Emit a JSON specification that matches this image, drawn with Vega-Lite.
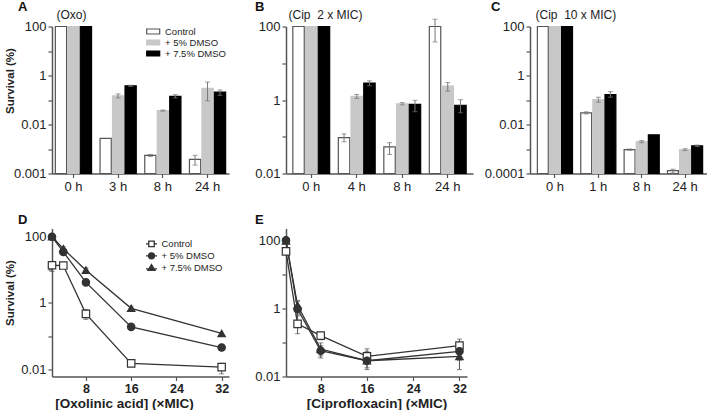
{
  "$schema": "https://vega.github.io/schema/vega-lite/v6.json",
  "background": "white",
  "padding": {"left": 4, "top": 0.5, "right": 0, "bottom": 0},
  "datasets": {
    "bars": [
      {"panel": "A", "time": "0 h", "group": "Control", "value": 100},
      {"panel": "A", "time": "0 h", "group": "+ 5% DMSO", "value": 100},
      {"panel": "A", "time": "0 h", "group": "+ 7.5% DMSO", "value": 100},
      {"panel": "A", "time": "3 h", "group": "Control", "value": 0.0027},
      {"panel": "A", "time": "3 h", "group": "+ 5% DMSO", "value": 0.148, "lo": 0.122, "hi": 0.177},
      {"panel": "A", "time": "3 h", "group": "+ 7.5% DMSO", "value": 0.38, "lo": 0.36, "hi": 0.4},
      {"panel": "A", "time": "8 h", "group": "Control", "value": 0.00055, "lo": 0.00049, "hi": 0.0006},
      {"panel": "A", "time": "8 h", "group": "+ 5% DMSO", "value": 0.037, "lo": 0.035, "hi": 0.039},
      {"panel": "A", "time": "8 h", "group": "+ 7.5% DMSO", "value": 0.14, "lo": 0.122, "hi": 0.165},
      {"panel": "A", "time": "24 h", "group": "Control", "value": 0.00038, "lo": 0.00022, "hi": 0.00055},
      {"panel": "A", "time": "24 h", "group": "+ 5% DMSO", "value": 0.3, "lo": 0.092, "hi": 0.54},
      {"panel": "A", "time": "24 h", "group": "+ 7.5% DMSO", "value": 0.21, "lo": 0.155, "hi": 0.257},
      {"panel": "B", "time": "0 h", "group": "Control", "value": 100},
      {"panel": "B", "time": "0 h", "group": "+ 5% DMSO", "value": 100},
      {"panel": "B", "time": "0 h", "group": "+ 7.5% DMSO", "value": 100},
      {"panel": "B", "time": "4 h", "group": "Control", "value": 0.095, "lo": 0.073, "hi": 0.12},
      {"panel": "B", "time": "4 h", "group": "+ 5% DMSO", "value": 1.26, "lo": 1.1, "hi": 1.42},
      {"panel": "B", "time": "4 h", "group": "+ 7.5% DMSO", "value": 2.9, "lo": 2.44, "hi": 3.33},
      {"panel": "B", "time": "8 h", "group": "Control", "value": 0.053, "lo": 0.033, "hi": 0.069},
      {"panel": "B", "time": "8 h", "group": "+ 5% DMSO", "value": 0.79, "lo": 0.74, "hi": 0.85},
      {"panel": "B", "time": "8 h", "group": "+ 7.5% DMSO", "value": 0.76, "lo": 0.48, "hi": 0.98},
      {"panel": "B", "time": "24 h", "group": "Control", "value": 100, "lo": 38, "hi": 158},
      {"panel": "B", "time": "24 h", "group": "+ 5% DMSO", "value": 2.4, "lo": 1.74, "hi": 3.0},
      {"panel": "B", "time": "24 h", "group": "+ 7.5% DMSO", "value": 0.72, "lo": 0.45, "hi": 1.02},
      {"panel": "C", "time": "0 h", "group": "Control", "value": 100},
      {"panel": "C", "time": "0 h", "group": "+ 5% DMSO", "value": 100},
      {"panel": "C", "time": "0 h", "group": "+ 7.5% DMSO", "value": 100},
      {"panel": "C", "time": "1 h", "group": "Control", "value": 0.03, "lo": 0.027, "hi": 0.033},
      {"panel": "C", "time": "1 h", "group": "+ 5% DMSO", "value": 0.105, "lo": 0.081, "hi": 0.13},
      {"panel": "C", "time": "1 h", "group": "+ 7.5% DMSO", "value": 0.165, "lo": 0.13, "hi": 0.22},
      {"panel": "C", "time": "8 h", "group": "Control", "value": 0.00094, "lo": 0.00088, "hi": 0.001},
      {"panel": "C", "time": "8 h", "group": "+ 5% DMSO", "value": 0.002, "lo": 0.0018, "hi": 0.0022},
      {"panel": "C", "time": "8 h", "group": "+ 7.5% DMSO", "value": 0.0038},
      {"panel": "C", "time": "24 h", "group": "Control", "value": 0.00013, "lo": 0.000105, "hi": 0.00015},
      {"panel": "C", "time": "24 h", "group": "+ 5% DMSO", "value": 0.00094, "lo": 0.00086, "hi": 0.00103},
      {"panel": "C", "time": "24 h", "group": "+ 7.5% DMSO", "value": 0.00135, "lo": 0.00125, "hi": 0.00145}
    ],
    "lines": [
      {"panel": "D", "conc": 2, "group": "Control", "value": 13.8, "lo": 9, "hi": 16},
      {"panel": "D", "conc": 4, "group": "Control", "value": 13.5, "lo": 11, "hi": 16},
      {"panel": "D", "conc": 8, "group": "Control", "value": 0.47, "lo": 0.32, "hi": 0.63},
      {"panel": "D", "conc": 16, "group": "Control", "value": 0.015, "lo": 0.013, "hi": 0.017},
      {"panel": "D", "conc": 32, "group": "Control", "value": 0.0115, "lo": 0.0072, "hi": 0.015},
      {"panel": "D", "conc": 2, "group": "+ 5% DMSO", "value": 100},
      {"panel": "D", "conc": 4, "group": "+ 5% DMSO", "value": 35, "lo": 30, "hi": 40},
      {"panel": "D", "conc": 8, "group": "+ 5% DMSO", "value": 4.2},
      {"panel": "D", "conc": 16, "group": "+ 5% DMSO", "value": 0.19, "lo": 0.17, "hi": 0.22},
      {"panel": "D", "conc": 32, "group": "+ 5% DMSO", "value": 0.045},
      {"panel": "D", "conc": 2, "group": "+ 7.5% DMSO", "value": 100},
      {"panel": "D", "conc": 4, "group": "+ 7.5% DMSO", "value": 43.5, "lo": 38, "hi": 50},
      {"panel": "D", "conc": 8, "group": "+ 7.5% DMSO", "value": 9.8, "lo": 8.5, "hi": 11.5},
      {"panel": "D", "conc": 16, "group": "+ 7.5% DMSO", "value": 0.69, "lo": 0.58, "hi": 0.8},
      {"panel": "D", "conc": 32, "group": "+ 7.5% DMSO", "value": 0.12},
      {"panel": "E", "conc": 2, "group": "Control", "value": 47},
      {"panel": "E", "conc": 4, "group": "Control", "value": 0.35, "lo": 0.18, "hi": 0.65},
      {"panel": "E", "conc": 8, "group": "Control", "value": 0.158, "lo": 0.12, "hi": 0.2},
      {"panel": "E", "conc": 16, "group": "Control", "value": 0.039, "lo": 0.025, "hi": 0.055},
      {"panel": "E", "conc": 32, "group": "Control", "value": 0.081, "lo": 0.045, "hi": 0.125},
      {"panel": "E", "conc": 2, "group": "+ 5% DMSO", "value": 100},
      {"panel": "E", "conc": 4, "group": "+ 5% DMSO", "value": 0.95, "lo": 0.6, "hi": 1.6},
      {"panel": "E", "conc": 8, "group": "+ 5% DMSO", "value": 0.057, "lo": 0.04, "hi": 0.08},
      {"panel": "E", "conc": 16, "group": "+ 5% DMSO", "value": 0.029, "lo": 0.018, "hi": 0.045},
      {"panel": "E", "conc": 32, "group": "+ 5% DMSO", "value": 0.055, "lo": 0.03, "hi": 0.09},
      {"panel": "E", "conc": 2, "group": "+ 7.5% DMSO", "value": 95},
      {"panel": "E", "conc": 4, "group": "+ 7.5% DMSO", "value": 1.23, "lo": 0.9, "hi": 1.7},
      {"panel": "E", "conc": 8, "group": "+ 7.5% DMSO", "value": 0.064, "lo": 0.035, "hi": 0.097},
      {"panel": "E", "conc": 16, "group": "+ 7.5% DMSO", "value": 0.029, "lo": 0.016, "hi": 0.065},
      {"panel": "E", "conc": 32, "group": "+ 7.5% DMSO", "value": 0.039, "lo": 0.016, "hi": 0.07}
    ]
  },
  "columns": 3,
  "align": "none",
  "bounds": "flush",
  "spacing": {"row": 55, "column": 57},
  "resolve": {"scale": {"fill": "independent", "stroke": "independent", "shape": "independent", "x": "independent", "y": "independent", "xOffset": "independent"}, "legend": {"fill": "independent", "stroke": "independent", "shape": "independent"}},
  "concat": [
    {
      "data": {"name": "bars"},
      "transform": [{"filter": "datum.panel == 'A'"}],
      "width": 177, "height": 147,
      "title": {"text": "A", "dx": -34, "offset": -5.5},
      "resolve": {"axis": {"x": "independent"}},
      "layer": [
        {
          "mark": {"type": "bar", "strokeWidth": 1.2},
          "encoding": {
            "x": {"field": "time", "type": "nominal", "sort": ["0 h", "3 h", "8 h", "24 h"], "scale": {"paddingInner": 0.19, "paddingOuter": 0.075}, "axis": {"title": null, "labelPadding": 3}},
            "xOffset": {"field": "group", "type": "nominal", "sort": ["Control", "+ 5% DMSO", "+ 7.5% DMSO"], "scale": {"paddingInner": 0.1}},
            "y": {"field": "value", "type": "quantitative", "stack": null, "title": "Survival (%)", "scale": {"type": "log", "domain": [0.0001, 100], "nice": false}, "axis": {"values": [100, 10, 1, 0.1, 0.01, 0.001, 0.0001], "labelOverlap": false, "labelExpr": "datum.value > 99 ? '100' : (datum.value > 0.99 && datum.value < 1.01) ? '1' : (datum.value > 0.0099 && datum.value < 0.0101) ? '0.01' : datum.value < 0.00011 ? '0.001' : ''", "titleX": -42, "titleY": 54, "titleAngle": 270, "titleAlign": "center", "titleBaseline": "middle"}},
            "y2": {"datum": 0.0001},
            "fill": {"field": "group", "type": "nominal", "scale": {"domain": ["Control", "+ 5% DMSO", "+ 7.5% DMSO"], "range": ["#ffffff", "#c8c8c8", "#000000"]}, "legend": {"title": null, "orient": "none", "legendX": 95.2, "legendY": -1, "symbolType": "M-1.3,-0.5H1.3V0.5H-1.3Z", "symbolSize": 100, "symbolStrokeWidth": 1.2, "labelOffset": 5.8, "rowPadding": -1.9}},
            "stroke": {"field": "group", "type": "nominal", "scale": {"domain": ["Control", "+ 5% DMSO", "+ 7.5% DMSO"], "range": ["#555555", "#c8c8c8", "#000000"]}, "legend": {"title": null, "orient": "none", "legendX": 95.2, "legendY": -1, "symbolType": "M-1.3,-0.5H1.3V0.5H-1.3Z", "symbolSize": 100, "symbolStrokeWidth": 1.2, "labelOffset": 5.8, "rowPadding": -1.9}}
          }
        },
        {
          "transform": [{"filter": "isValid(datum.lo)"}],
          "mark": {"type": "rule", "color": "#777777", "strokeWidth": 1},
          "encoding": {
            "x": {"field": "time", "type": "nominal", "sort": ["0 h", "3 h", "8 h", "24 h"], "axis": {"orient": "top", "title": "(Oxo)", "labels": false, "ticks": false, "domain": false, "titleX": 4, "titleY": -8, "titleAlign": "left", "titleBaseline": "alphabetic", "titleFontWeight": "normal", "titleFontSize": 12}},
            "xOffset": {"field": "group", "type": "nominal", "sort": ["Control", "+ 5% DMSO", "+ 7.5% DMSO"]},
            "y": {"field": "lo", "type": "quantitative", "title": "Survival (%)"},
            "y2": {"field": "hi"}
          }
        },
        {
          "transform": [{"filter": "isValid(datum.lo)"}],
          "mark": {"type": "tick", "orient": "horizontal", "color": "#777777", "size": 5, "thickness": 1},
          "encoding": {
            "x": {"field": "time", "type": "nominal", "sort": ["0 h", "3 h", "8 h", "24 h"], "axis": null},
            "xOffset": {"field": "group", "type": "nominal", "sort": ["Control", "+ 5% DMSO", "+ 7.5% DMSO"]},
            "y": {"field": "lo", "type": "quantitative", "title": "Survival (%)"}
          }
        },
        {
          "transform": [{"filter": "isValid(datum.hi)"}],
          "mark": {"type": "tick", "orient": "horizontal", "color": "#777777", "size": 5, "thickness": 1},
          "encoding": {
            "x": {"field": "time", "type": "nominal", "sort": ["0 h", "3 h", "8 h", "24 h"], "axis": null},
            "xOffset": {"field": "group", "type": "nominal", "sort": ["Control", "+ 5% DMSO", "+ 7.5% DMSO"]},
            "y": {"field": "hi", "type": "quantitative", "title": "Survival (%)"}
          }
        }
      ]
    },
    {
      "data": {"name": "bars"},
      "transform": [{"filter": "datum.panel == 'B'"}],
      "width": 187, "height": 147,
      "title": {"text": "B", "dx": -31, "offset": -5.5},
      "resolve": {"axis": {"x": "independent"}},
      "layer": [
        {
          "mark": {"type": "bar", "strokeWidth": 1.2},
          "encoding": {
            "x": {"field": "time", "type": "nominal", "sort": ["0 h", "4 h", "8 h", "24 h"], "scale": {"paddingInner": 0.19, "paddingOuter": 0.15}, "axis": {"title": null, "labelPadding": 3}},
            "xOffset": {"field": "group", "type": "nominal", "sort": ["Control", "+ 5% DMSO", "+ 7.5% DMSO"], "scale": {"paddingInner": 0.1}},
            "y": {"field": "value", "type": "quantitative", "stack": null, "title": null, "scale": {"type": "log", "domain": [0.01, 100], "nice": false}, "axis": {"values": [100, 10, 1, 0.1, 0.01], "labelOverlap": false, "labelExpr": "datum.value > 99 ? '100' : (datum.value > 0.99 && datum.value < 1.01) ? '1' : (datum.value > 0.0099 && datum.value < 0.0101) ? '0.01' : ''"}},
            "y2": {"datum": 0.01},
            "fill": {"field": "group", "type": "nominal", "scale": {"domain": ["Control", "+ 5% DMSO", "+ 7.5% DMSO"], "range": ["#ffffff", "#c8c8c8", "#000000"]}, "legend": null},
            "stroke": {"field": "group", "type": "nominal", "scale": {"domain": ["Control", "+ 5% DMSO", "+ 7.5% DMSO"], "range": ["#555555", "#c8c8c8", "#000000"]}, "legend": null}
          }
        },
        {
          "transform": [{"filter": "isValid(datum.lo)"}],
          "mark": {"type": "rule", "color": "#777777", "strokeWidth": 1},
          "encoding": {
            "x": {"field": "time", "type": "nominal", "sort": ["0 h", "4 h", "8 h", "24 h"], "axis": {"orient": "top", "title": "(Cip\u00a0 2 x MIC)", "labels": false, "ticks": false, "domain": false, "titleX": 2, "titleY": -8, "titleAlign": "left", "titleBaseline": "alphabetic", "titleFontWeight": "normal", "titleFontSize": 12}},
            "xOffset": {"field": "group", "type": "nominal", "sort": ["Control", "+ 5% DMSO", "+ 7.5% DMSO"]},
            "y": {"field": "lo", "type": "quantitative", "title": null},
            "y2": {"field": "hi"}
          }
        },
        {
          "transform": [{"filter": "isValid(datum.lo)"}],
          "mark": {"type": "tick", "orient": "horizontal", "color": "#777777", "size": 5, "thickness": 1},
          "encoding": {
            "x": {"field": "time", "type": "nominal", "sort": ["0 h", "4 h", "8 h", "24 h"], "axis": null},
            "xOffset": {"field": "group", "type": "nominal", "sort": ["Control", "+ 5% DMSO", "+ 7.5% DMSO"]},
            "y": {"field": "lo", "type": "quantitative", "title": null}
          }
        },
        {
          "transform": [{"filter": "isValid(datum.hi)"}],
          "mark": {"type": "tick", "orient": "horizontal", "color": "#777777", "size": 5, "thickness": 1},
          "encoding": {
            "x": {"field": "time", "type": "nominal", "sort": ["0 h", "4 h", "8 h", "24 h"], "axis": null},
            "xOffset": {"field": "group", "type": "nominal", "sort": ["Control", "+ 5% DMSO", "+ 7.5% DMSO"]},
            "y": {"field": "hi", "type": "quantitative", "title": null}
          }
        }
      ]
    },
    {
      "data": {"name": "bars"},
      "transform": [{"filter": "datum.panel == 'C'"}],
      "width": 180, "height": 147,
      "title": {"text": "C", "dx": -39, "offset": -5.5},
      "resolve": {"axis": {"x": "independent"}},
      "layer": [
        {
          "mark": {"type": "bar", "strokeWidth": 1.2},
          "encoding": {
            "x": {"field": "time", "type": "nominal", "sort": ["0 h", "1 h", "8 h", "24 h"], "scale": {"paddingInner": 0.19, "paddingOuter": 0.17}, "axis": {"title": null, "labelPadding": 3}},
            "xOffset": {"field": "group", "type": "nominal", "sort": ["Control", "+ 5% DMSO", "+ 7.5% DMSO"], "scale": {"paddingInner": 0.1}},
            "y": {"field": "value", "type": "quantitative", "stack": null, "title": null, "scale": {"type": "log", "domain": [0.0001, 100], "nice": false}, "axis": {"values": [100, 10, 1, 0.1, 0.01, 0.001, 0.0001], "labelOverlap": false, "labelExpr": "datum.value > 99 ? '100' : (datum.value > 0.99 && datum.value < 1.01) ? '1' : (datum.value > 0.0099 && datum.value < 0.0101) ? '0.01' : datum.value < 0.00011 ? '0.0001' : ''"}},
            "y2": {"datum": 0.0001},
            "fill": {"field": "group", "type": "nominal", "scale": {"domain": ["Control", "+ 5% DMSO", "+ 7.5% DMSO"], "range": ["#ffffff", "#c8c8c8", "#000000"]}, "legend": null},
            "stroke": {"field": "group", "type": "nominal", "scale": {"domain": ["Control", "+ 5% DMSO", "+ 7.5% DMSO"], "range": ["#555555", "#c8c8c8", "#000000"]}, "legend": null}
          }
        },
        {
          "transform": [{"filter": "isValid(datum.lo)"}],
          "mark": {"type": "rule", "color": "#777777", "strokeWidth": 1},
          "encoding": {
            "x": {"field": "time", "type": "nominal", "sort": ["0 h", "1 h", "8 h", "24 h"], "axis": {"orient": "top", "title": "(Cip\u00a0 10 x MIC)", "labels": false, "ticks": false, "domain": false, "titleX": 5, "titleY": -8, "titleAlign": "left", "titleBaseline": "alphabetic", "titleFontWeight": "normal", "titleFontSize": 12}},
            "xOffset": {"field": "group", "type": "nominal", "sort": ["Control", "+ 5% DMSO", "+ 7.5% DMSO"]},
            "y": {"field": "lo", "type": "quantitative", "title": null},
            "y2": {"field": "hi"}
          }
        },
        {
          "transform": [{"filter": "isValid(datum.lo)"}],
          "mark": {"type": "tick", "orient": "horizontal", "color": "#777777", "size": 5, "thickness": 1},
          "encoding": {
            "x": {"field": "time", "type": "nominal", "sort": ["0 h", "1 h", "8 h", "24 h"], "axis": null},
            "xOffset": {"field": "group", "type": "nominal", "sort": ["Control", "+ 5% DMSO", "+ 7.5% DMSO"]},
            "y": {"field": "lo", "type": "quantitative", "title": null}
          }
        },
        {
          "transform": [{"filter": "isValid(datum.hi)"}],
          "mark": {"type": "tick", "orient": "horizontal", "color": "#777777", "size": 5, "thickness": 1},
          "encoding": {
            "x": {"field": "time", "type": "nominal", "sort": ["0 h", "1 h", "8 h", "24 h"], "axis": null},
            "xOffset": {"field": "group", "type": "nominal", "sort": ["Control", "+ 5% DMSO", "+ 7.5% DMSO"]},
            "y": {"field": "hi", "type": "quantitative", "title": null}
          }
        }
      ]
    },
    {
      "data": {"name": "lines"},
      "transform": [{"filter": "datum.panel == 'D'"}],
      "width": 177, "height": 148,
      "title": {"text": "D", "dx": -34, "offset": 2},
      "resolve": {"scale": {"shape": "independent", "fill": "independent", "stroke": "independent"}, "legend": {"shape": "independent", "fill": "independent", "stroke": "independent"}},
      "encoding": {
        "x": {"field": "conc", "type": "quantitative", "title": "[Oxolinic acid] (×MIC)", "scale": {"domain": [2, 33.3], "nice": false, "zero": false}, "axis": {"values": [8, 16, 24, 32], "labelFontWeight": "bold", "labelFontSize": 12.5, "labelPadding": 2, "titleFontSize": 13.5, "titleX": 72, "titleAlign": "center", "titlePadding": 1}}
      },
      "layer": [
        {
          "mark": {"type": "line", "color": "#333333", "strokeWidth": 1.3},
          "encoding": {
            "y": {"field": "value", "type": "quantitative", "title": "Survival (%)", "scale": {"type": "log", "domain": [0.006, 178], "nice": false}, "axis": {"values": [100, 10, 1, 0.1, 0.01], "labelOverlap": false, "labelExpr": "datum.value > 99 ? '100' : (datum.value > 0.99 && datum.value < 1.01) ? '1' : (datum.value > 0.0099 && datum.value < 0.0101) ? '0.01' : ''", "titleX": -42, "titleY": 64, "titleAngle": 270, "titleAlign": "center", "titleBaseline": "middle"}},
            "detail": {"field": "group"}
          }
        },
        {
          "transform": [{"filter": "isValid(datum.lo)"}],
          "mark": {"type": "rule", "color": "#555555", "strokeWidth": 1},
          "encoding": {"y": {"field": "lo", "type": "quantitative", "title": "Survival (%)"}, "y2": {"field": "hi"}}
        },
        {
          "transform": [{"filter": "isValid(datum.lo)"}],
          "mark": {"type": "tick", "orient": "horizontal", "color": "#555555", "size": 5, "thickness": 1},
          "encoding": {"y": {"field": "lo", "type": "quantitative", "title": "Survival (%)"}}
        },
        {
          "transform": [{"filter": "isValid(datum.hi)"}],
          "mark": {"type": "tick", "orient": "horizontal", "color": "#555555", "size": 5, "thickness": 1},
          "encoding": {"y": {"field": "hi", "type": "quantitative", "title": "Survival (%)"}}
        },
        {
          "mark": {"type": "point", "filled": true, "stroke": "#333333", "strokeWidth": 1.2, "size": 55, "opacity": 1},
          "encoding": {
            "y": {"field": "value", "type": "quantitative", "title": "Survival (%)"},
            "shape": {"field": "group", "type": "nominal", "scale": {"domain": ["Control", "+ 5% DMSO", "+ 7.5% DMSO"], "range": ["square", "circle", "triangle-up"]}, "legend": null},
            "fill": {"field": "group", "type": "nominal", "scale": {"domain": ["Control", "+ 5% DMSO", "+ 7.5% DMSO"], "range": ["#ffffff", "#333333", "#333333"]}, "legend": null}
          }
        },
        {
          "transform": [{"filter": "false"}],
          "mark": {"type": "point", "filled": true, "size": 100, "strokeWidth": 1.3, "opacity": 1},
          "encoding": {
            "y": {"field": "value", "type": "quantitative", "title": "Survival (%)"},
            "shape": {"field": "group", "type": "nominal", "scale": {"domain": ["Control", "+ 5% DMSO", "+ 7.5% DMSO"], "range": ["M-1.1,0H-0.55M0.55,0H1.1M-0.55,-0.55H0.55V0.55H-0.55Z", "M-1.1,0H1.1M-0.6,0A0.6,0.6,0,1,0,0.6,0A0.6,0.6,0,1,0,-0.6,0Z", "M-1.1,0.2H1.1M0,-0.65L0.7,0.5H-0.7Z"]}, "legend": {"title": null, "orient": "none", "legendX": 93.5, "legendY": 9.3, "symbolSize": 100, "symbolStrokeWidth": 1.3, "labelOffset": 4, "rowPadding": -1.4}},
            "fill": {"field": "group", "type": "nominal", "scale": {"domain": ["Control", "+ 5% DMSO", "+ 7.5% DMSO"], "range": ["#ffffff", "#333333", "#333333"]}, "legend": {"title": null, "orient": "none", "legendX": 93.5, "legendY": 9.3, "symbolSize": 100, "symbolStrokeWidth": 1.3, "labelOffset": 4, "rowPadding": -1.4}},
            "stroke": {"field": "group", "type": "nominal", "scale": {"domain": ["Control", "+ 5% DMSO", "+ 7.5% DMSO"], "range": ["#333333", "#333333", "#333333"]}, "legend": {"title": null, "orient": "none", "legendX": 93.5, "legendY": 9.3, "symbolSize": 100, "symbolStrokeWidth": 1.3, "labelOffset": 4, "rowPadding": -1.4}}
          }
        }
      ]
    },
    {
      "data": {"name": "lines"},
      "transform": [{"filter": "datum.panel == 'E'"}],
      "width": 181, "height": 148,
      "title": {"text": "E", "dx": -31, "offset": 2},
      "encoding": {
        "x": {"field": "conc", "type": "quantitative", "title": "[Ciprofloxacin] (×MIC)", "scale": {"domain": [2, 33.3], "nice": false, "zero": false}, "axis": {"values": [8, 16, 24, 32], "labelFontWeight": "bold", "labelFontSize": 12.5, "labelPadding": 2, "titleFontSize": 13.5, "titlePadding": 1}}
      },
      "layer": [
        {
          "mark": {"type": "line", "color": "#333333", "strokeWidth": 1.3},
          "encoding": {
            "y": {"field": "value", "type": "quantitative", "title": null, "scale": {"type": "log", "domain": [0.01, 221], "nice": false}, "axis": {"values": [100, 10, 1, 0.1, 0.01], "labelOverlap": false, "labelExpr": "datum.value > 99 ? '100' : (datum.value > 0.99 && datum.value < 1.01) ? '1' : (datum.value > 0.0099 && datum.value < 0.0101) ? '0.01' : ''"}},
            "detail": {"field": "group"}
          }
        },
        {
          "transform": [{"filter": "isValid(datum.lo)"}],
          "mark": {"type": "rule", "color": "#555555", "strokeWidth": 1},
          "encoding": {"y": {"field": "lo", "type": "quantitative", "title": null}, "y2": {"field": "hi"}}
        },
        {
          "transform": [{"filter": "isValid(datum.lo)"}],
          "mark": {"type": "tick", "orient": "horizontal", "color": "#555555", "size": 5, "thickness": 1},
          "encoding": {"y": {"field": "lo", "type": "quantitative", "title": null}}
        },
        {
          "transform": [{"filter": "isValid(datum.hi)"}],
          "mark": {"type": "tick", "orient": "horizontal", "color": "#555555", "size": 5, "thickness": 1},
          "encoding": {"y": {"field": "hi", "type": "quantitative", "title": null}}
        },
        {
          "mark": {"type": "point", "filled": true, "stroke": "#333333", "strokeWidth": 1.2, "size": 55, "opacity": 1},
          "encoding": {
            "y": {"field": "value", "type": "quantitative", "title": null},
            "shape": {"field": "group", "type": "nominal", "scale": {"domain": ["Control", "+ 5% DMSO", "+ 7.5% DMSO"], "range": ["square", "circle", "triangle-up"]}, "legend": null},
            "fill": {"field": "group", "type": "nominal", "scale": {"domain": ["Control", "+ 5% DMSO", "+ 7.5% DMSO"], "range": ["#ffffff", "#333333", "#333333"]}, "legend": null}
          }
        }
      ]
    }
  ],
  "config": {
    "font": "Liberation Sans",
    "view": {"stroke": null},
    "axis": {"grid": false, "domainColor": "#555555", "domainWidth": 1.5, "tickColor": "#555555", "tickWidth": 1.2, "tickSize": 4, "labelFont": "Liberation Sans", "labelFontSize": 13, "labelColor": "#222222", "labelPadding": 2, "titleFont": "Liberation Sans", "titleColor": "#222222", "titleFontWeight": "bold", "titleFontSize": 11.5},
    "axisX": {"labelAngle": 0},
    "legend": {"labelFont": "Liberation Sans", "labelFontSize": 9.5, "labelColor": "#222222", "padding": 0},
    "title": {"font": "Liberation Sans", "fontSize": 13, "fontWeight": "bold", "anchor": "start", "frame": "group", "baseline": "alphabetic", "color": "#111111"}
  }
}
